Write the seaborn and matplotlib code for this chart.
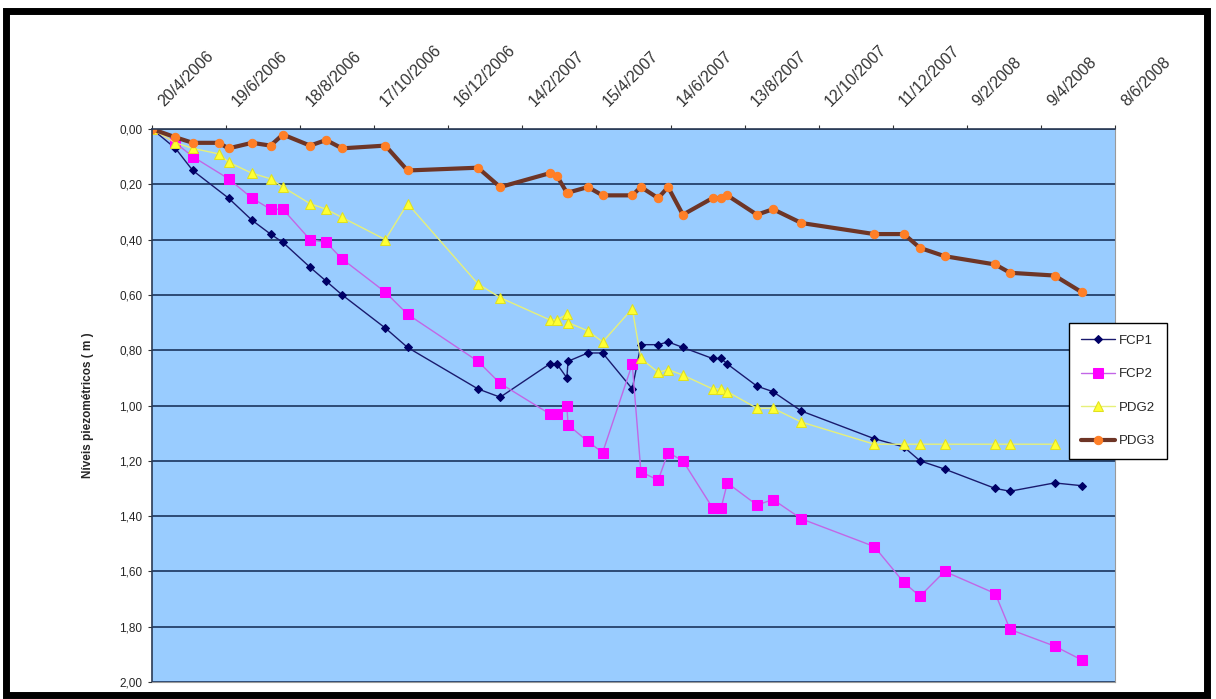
import pandas as pd
import numpy as np
import matplotlib
matplotlib.use("Agg")
import matplotlib.pyplot as plt
import matplotlib.transforms as mtransforms
from matplotlib.patches import Rectangle
import seaborn as sns

# measurement dates (shared by all wells)
dates = ["2006-04-20", "2006-05-09", "2006-05-23", "2006-06-13", "2006-06-21", "2006-07-10",
         "2006-07-25", "2006-08-04", "2006-08-26", "2006-09-08", "2006-09-21", "2006-10-26",
         "2006-11-13", "2007-01-09", "2007-01-27", "2007-03-08", "2007-03-14", "2007-03-22",
         "2007-03-23", "2007-04-08", "2007-04-20", "2007-05-14", "2007-05-21", "2007-06-04",
         "2007-06-12", "2007-06-24", "2007-07-18", "2007-07-25", "2007-07-30", "2007-08-23",
         "2007-09-05", "2007-09-28", "2007-11-26", "2007-12-20", "2008-01-02", "2008-01-22",
         "2008-03-03", "2008-03-15", "2008-04-20", "2008-05-12"]

nan = np.nan
fcp1 = [0.00, 0.07, 0.15, nan, 0.25, 0.33, 0.38, 0.41, 0.50, 0.55, 0.60, 0.72,
        0.79, 0.94, 0.97, 0.85, 0.85, 0.90, 0.84, 0.81, 0.81, 0.94, 0.78, 0.78,
        0.77, 0.79, 0.83, 0.83, 0.85, 0.93, 0.95, 1.02, 1.12, 1.15, 1.20, 1.23,
        1.30, 1.31, 1.28, 1.29]
fcp2 = [0.00, 0.05, 0.10, nan, 0.18, 0.25, 0.29, 0.29, 0.40, 0.41, 0.47, 0.59,
        0.67, 0.84, 0.92, 1.03, 1.03, 1.00, 1.07, 1.13, 1.17, 0.85, 1.24, 1.27,
        1.17, 1.20, 1.37, 1.37, 1.28, 1.36, 1.34, 1.41, 1.51, 1.64, 1.69, 1.60,
        1.68, 1.81, 1.87, 1.92]
pdg2 = [0.00, 0.05, 0.07, 0.09, 0.12, 0.16, 0.18, 0.21, 0.27, 0.29, 0.32, 0.40,
        0.27, 0.56, 0.61, 0.69, 0.69, 0.67, 0.70, 0.73, 0.77, 0.65, 0.83, 0.88,
        0.87, 0.89, 0.94, 0.94, 0.95, 1.01, 1.01, 1.06, 1.14, 1.14, 1.14, 1.14,
        1.14, 1.14, 1.14, nan]
pdg3 = [0.00, 0.03, 0.05, 0.05, 0.07, 0.05, 0.06, 0.02, 0.06, 0.04, 0.07, 0.06,
        0.15, 0.14, 0.21, 0.16, 0.17, 0.23, 0.23, 0.21, 0.24, 0.24, 0.21, 0.25,
        0.21, 0.31, 0.25, 0.25, 0.24, 0.31, 0.29, 0.34, 0.38, 0.38, 0.43, 0.46,
        0.49, 0.52, 0.53, 0.59]

series_names = ["FCP1", "FCP2", "PDG2", "PDG3"]
y_ticks = [0.0, 0.2, 0.4, 0.6, 0.8, 1.0, 1.2, 1.4, 1.6, 1.8, 2.0]
x_ticks = pd.date_range("2006-04-20", periods=14, freq="60D")

df = pd.DataFrame({"data": pd.to_datetime(dates), "FCP1": fcp1, "FCP2": fcp2,
                   "PDG2": pdg2, "PDG3": pdg3})

sns.set_style("white")
plt.rcParams["font.family"] = ["Liberation Sans", "DejaVu Sans"]

fig = plt.figure(figsize=(12.16, 6.99), dpi=100)
ax = fig.add_axes([152 / 1216, 1 - 682 / 699, (1115 - 152) / 1216, (682 - 129) / 699])
ax.set_facecolor("#99ccff")

styles = {
    "FCP1": dict(color="#1a1a6e", marker="D", markersize=4.5, markerfacecolor="#000066",
                 markeredgecolor="#000066", linewidth=1.0),
    "FCP2": dict(color="#c266e6", marker="s", markersize=6.5, markerfacecolor="#ff00ff",
                 markeredgecolor="#ff00ff", linewidth=1.0),
    "PDG2": dict(color="#e6f07a", marker="^", markersize=6.5, markerfacecolor="#ffff33",
                 markeredgecolor="#e0e020", linewidth=1.0),
    "PDG3": dict(color="#6e3526", marker="o", markersize=6, markerfacecolor="#ff7f27",
                 markeredgecolor="#ff7f27", linewidth=3.0),
}

for name in series_names:
    sub = df[["data", name]].dropna()
    sns.lineplot(data=sub, x="data", y=name, ax=ax, estimator=None, sort=False,
                 label=name, **styles[name])

ax.set_ylim(2.0, 0.0)
ax.set_xlim(x_ticks[0], x_ticks[-1])
ax.set_yticks(y_ticks)
ax.set_yticklabels([f"{v:.2f}".replace(".", ",") for v in y_ticks], fontsize=8.5)
ax.yaxis.grid(True, color="#24406a", linewidth=1.3)
ax.xaxis.grid(False)

# date labels above the plot, slanted like the spreadsheet original
ax.xaxis.tick_top()
ax.set_xticks(x_ticks)
ax.set_xticklabels([])
shift = mtransforms.ScaledTranslation(14 / 100, 20 / 100, fig.dpi_scale_trans)
for d in x_ticks:
    ax.text(d, 1.0, f"{d.day}/{d.month}/{d.year}", transform=ax.get_xaxis_transform() + shift,
            rotation=45, ha="left", va="bottom", rotation_mode="anchor", fontsize=11.5,
            color="#333333", clip_on=False)
ax.tick_params(axis="x", which="major", direction="out", length=3, color="#333333")
ax.tick_params(axis="y", which="major", direction="out", length=3, pad=4, left=True,
               color="#333333")
ax.set_xlabel("")
ax.set_ylabel("Níveis piezométricos ( m )", fontsize=8.5, fontweight="bold", labelpad=18)

for side in ["left", "top"]:
    ax.spines[side].set_color("#2a3a55")
    ax.spines[side].set_linewidth(1.2)
for side in ["right", "bottom"]:
    ax.spines[side].set_color("#9a9a9a")
    ax.spines[side].set_linewidth(0.8)

leg = ax.legend(loc="upper left", bbox_to_anchor=(1069 / 1216, 1 - 323 / 699),
                bbox_transform=fig.transFigure, borderaxespad=0, frameon=True,
                fancybox=False, fontsize=9.5, labelspacing=1.6, handlelength=2.6,
                borderpad=0.9, handletextpad=0.3)
leg.get_frame().set_edgecolor("black")
leg.get_frame().set_linewidth(1.0)
leg.get_frame().set_facecolor("white")
leg.get_frame().set_alpha(1)

fig.patches.append(Rectangle((0.005, 0.006), 0.988, 0.978, transform=fig.transFigure,
                             fill=False, edgecolor="black", linewidth=5))

fig.savefig("out.png", dpi=100)
